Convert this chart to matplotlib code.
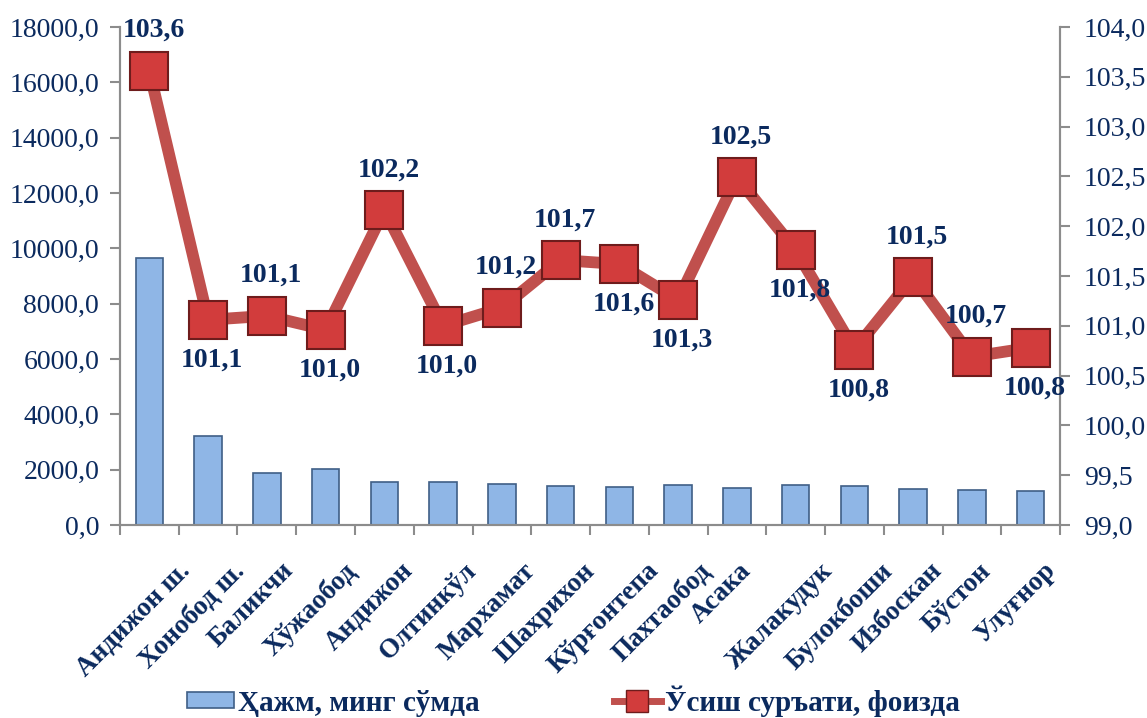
import matplotlib
matplotlib.use("Agg")
import matplotlib.pyplot as plt
from matplotlib.lines import Line2D
from matplotlib.patches import Patch

plt.rcParams['font.family'] = ['Liberation Serif', 'DejaVu Serif']

districts = ['Андижон ш.', 'Хонобод ш.', 'Баликчи', 'Хўжаобод', 'Андижон',
             'Олтинкўл', 'Мархамат', 'Шахрихон', 'Кўрғонтепа', 'Пахтаобод',
             'Асака', 'Жалакудук', 'Булокбоши', 'Избоскан', 'Бўстон', 'Улуғнор']
volume = [9650, 3220, 1870, 2010, 1545, 1545, 1470, 1400, 1370, 1435,
          1325, 1435, 1410, 1290, 1255, 1220]
growth = [103.56, 101.06, 101.1, 100.96, 102.16, 101.0, 101.18, 101.66, 101.62, 101.26,
          102.49, 101.76, 100.76, 101.49, 100.69, 100.78]
label_side = ['up', 'down', 'up', 'down', 'up', 'down', 'up', 'up', 'down', 'down',
              'up', 'down', 'down', 'up', 'up', 'down']

bar_name = 'Ҳажм, минг сўмда'
line_name = 'Ўсиш суръати, фоизда'

NAVY = '#0B2A5E'
AXIS = '#8C8C8C'
BAR = '#8FB6E6'
BAR_EDGE = '#3F5F86'
LINE = '#C0504D'
MARK = '#D23C3C'
MARK_EDGE = '#6E1C1C'


def comma(v):
    return f"{v:.1f}".replace('.', ',')


fig = plt.figure(figsize=(11.47, 7.18), dpi=100)
ax = fig.add_axes([0.1046, 0.2688, 0.8196, 0.6936])
ax2 = ax.twinx()

x = list(range(len(districts)))
ax.bar(x, volume, width=0.47, color=BAR, edgecolor=BAR_EDGE, linewidth=1.2)

ax2.plot(x, growth, color=LINE, linewidth=8.5, solid_joinstyle='miter',
         marker='s', markersize=28, markerfacecolor=MARK,
         markeredgecolor=MARK_EDGE, markeredgewidth=1.5)

for xi, g, side in zip(x, growth, label_side):
    dy = 29 if side == 'up' else -29
    ax2.annotate(comma(g), (xi, g), xytext=(3, dy), textcoords='offset points',
                 ha='center', va='center', fontsize=20, fontweight='bold', color=NAVY)

ax.set_xlim(-0.5, len(districts) - 0.5)
ax.set_ylim(0, 18000)
ax2.set_ylim(99, 104)

ax.set_yticks(range(0, 18001, 2000))
ax.set_yticklabels([comma(v) for v in range(0, 18001, 2000)])
r_ticks = [99 + 0.5 * i for i in range(11)]
ax2.set_yticks(r_ticks)
ax2.set_yticklabels([comma(v) for v in r_ticks])

# category names: rotated box centred a little left of the tick, top at fixed depth
ax.set_xticks(x)
ax.set_xticklabels([''] * len(x))
for xi, name in zip(x, districts):
    ax.annotate(name, (xi, 0), xycoords=('data', 'axes fraction'),
                xytext=(-11, -24), textcoords='offset points',
                rotation=45, ha='center', va='top',
                fontsize=19.5, fontweight='bold', color=NAVY)
ax.set_xticks([i - 0.5 for i in range(len(districts) + 1)], minor=True)
ax.tick_params(axis='x', which='major', length=0)
ax.tick_params(axis='x', which='minor', length=7, width=1.5, color=AXIS, direction='out')

ax.tick_params(axis='y', length=7, width=1.5, color=AXIS, labelsize=20, labelcolor=NAVY, pad=8)
ax2.tick_params(axis='y', length=7, width=1.5, color=AXIS, labelsize=20, labelcolor=NAVY, pad=10)

for a in (ax, ax2):
    a.spines['top'].set_visible(False)
    for s in ('left', 'right', 'bottom'):
        a.spines[s].set_color(AXIS)
        a.spines[s].set_linewidth(1.5)

handles = [Patch(facecolor=BAR, edgecolor=BAR_EDGE, linewidth=1.2, label=bar_name),
           Line2D([0], [0], color=LINE, linewidth=5, marker='s', markersize=16,
                  markerfacecolor=MARK, markeredgecolor=MARK_EDGE, label=line_name)]
leg = fig.legend(handles=handles, loc='center', bbox_to_anchor=(0.5, 0.024), ncol=2,
                 frameon=False, columnspacing=4.6, handlelength=1.6, handleheight=0.45,
                 handletextpad=0.15, prop={'size': 21, 'weight': 'bold'})
for t in leg.get_texts():
    t.set_color(NAVY)

fig.savefig('out.png', dpi=100)
